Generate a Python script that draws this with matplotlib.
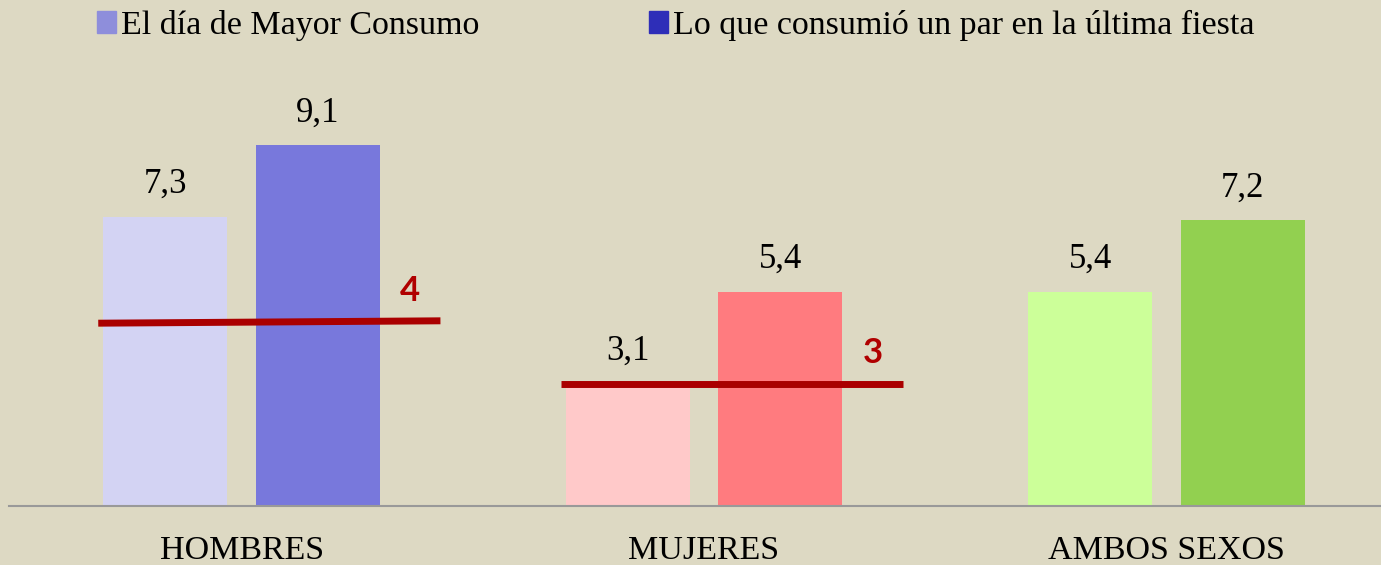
import matplotlib
matplotlib.use('Agg')
import matplotlib.pyplot as plt
from matplotlib.patches import Patch
import numpy as np

categories = ['HOMBRES', 'MUJERES', 'AMBOS SEXOS']
series_names = ['El día de Mayor Consumo', 'Lo que consumió un par en la última fiesta']
mayor_consumo = [7.3, 3.1, 5.4]
ultima_fiesta = [9.1, 5.4, 7.2]

# red reference lines (Hombres, Mujeres)
ref_cats = [0, 1]
ref_start = [4.61, 3.08]
ref_end = [4.67, 3.08]
ref_labels = ['4', '3']

light_colors = ['#D3D3F3', '#FFC9C9', '#CCFF99']
dark_colors = ['#7878DC', '#FF7B7F', '#92D050']
legend_colors = ['#8E8EDB', '#2E2EB8']
bg = '#DDD9C3'

fig = plt.figure(figsize=(13.81, 5.65), dpi=100, facecolor=bg)
ax = fig.add_axes([9 / 1381, 59 / 565, 1372 / 1381, 506 / 565])
ax.set_facecolor(bg)

x = np.arange(len(categories))
w = 0.268
off = 0.165
ax.bar(x - off, mayor_consumo, w, color=light_colors)
ax.bar(x + off, ultima_fiesta, w, color=dark_colors)

serif = 'Liberation Serif'
for xi, v in zip(x - off, mayor_consumo):
    ax.text(xi, v + 0.6, f'{v:.1f}'.replace('.', ','), ha='center', va='baseline',
            fontsize=25, family=serif)
for xi, v in zip(x + off, ultima_fiesta):
    ax.text(xi, v + 0.6, f'{v:.1f}'.replace('.', ','), ha='center', va='baseline',
            fontsize=25, family=serif)

for c, y0, y1, lab in zip(ref_cats, ref_start, ref_end, ref_labels):
    ax.plot([c - 0.31, c + 0.43], [y0, y1], color='#AA0000', lw=5, solid_capstyle='butt')
    ax.text(c + 0.365, (y0 + y1) / 2 + 0.78, lab, ha='center', va='center',
            fontsize=25, fontweight='bold', color='#B00000', family='Lato')

ax.set_xlim(-0.503, 2.464)
ax.set_ylim(0, 12.76)
ax.set_xticks(x)
ax.set_xticklabels(categories, fontsize=24.5, family=serif)
ax.tick_params(axis='x', length=0, pad=21)
ax.set_yticks([])
for s in ['top', 'right', 'left']:
    ax.spines[s].set_visible(False)
ax.spines['bottom'].set_color('#999999')
ax.spines['bottom'].set_linewidth(1.5)

handles = [Patch(color=c) for c in legend_colors]
fig.legend(handles, series_names, loc='upper left', bbox_to_anchor=(80 / 1381, 1.012),
           ncol=2, frameon=False, prop={'family': serif, 'size': 24.5},
           handlelength=0.55, handleheight=0.6, handletextpad=0.15,
           columnspacing=5.0, borderaxespad=0.1)

fig.savefig('out.png', dpi=100, facecolor=bg)
